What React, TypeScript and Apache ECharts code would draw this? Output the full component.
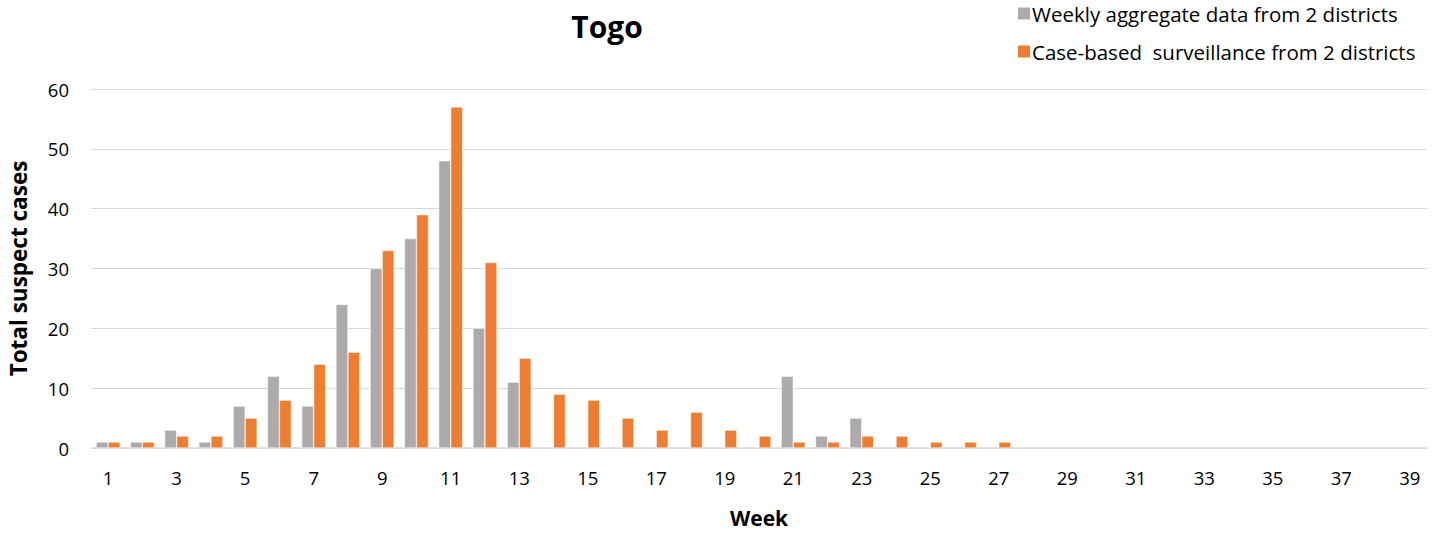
import React, { useEffect, useRef } from "react";
import * as echarts from "echarts";

const weeks = Array.from({ length: 39 }, (_, i) => String(i + 1));
const weeklyAggregate: (number | null)[] = [
  1, 1, 3, 1, 7, 12, 7, 24, 30, 35, 48, 20, 11, null, null, null, null, null, null, null,
  12, 2, 5, null, null, null, null, null, null, null, null, null, null, null, null, null, null, null, null,
];
const caseBased: (number | null)[] = [
  1, 1, 2, 2, 5, 8, 14, 16, 33, 39, 57, 31, 15, 9, 8, 5, 3, 6, 3, 2,
  1, 1, 2, 2, 1, 1, 1, null, null, null, null, null, null, null, null, null, null, null, null,
];
const seriesNames = ["Weekly aggregate data from 2 districts", "Case-based  surveillance from 2 districts"];

const FONT = "'Open Sans', 'Liberation Sans', sans-serif";

export default function App() {
  const ref = useRef<HTMLDivElement>(null);
  useEffect(() => {
    if (!ref.current) return;
    const chart = echarts.init(ref.current, undefined, { renderer: "svg" });
    chart.setOption({
      animation: false,
      backgroundColor: "#ffffff",
      title: {
        text: "Togo",
        left: 602,
        top: 6,
        textAlign: "center",
        textStyle: { fontFamily: FONT, fontSize: 30, fontWeight: "bold", color: "#000" },
      },
      legend: {
        orient: "vertical",
        left: 1011,
        top: -2,
        itemWidth: 14,
        itemHeight: 14,
        itemGap: 17,
        icon: "rect",
        textStyle: { fontFamily: FONT, fontSize: 20.5, color: "#000", padding: [0, 0, 0, -4] },
        data: seriesNames,
      },
      grid: { left: 91, right: 13, top: 89, bottom: 85, containLabel: false, outerBoundsMode: "none" },
      xAxis: {
        type: "category",
        data: weeks,
        name: "Week",
        nameLocation: "middle",
        nameGap: 59,
        nameTextStyle: { fontFamily: FONT, fontSize: 21, fontWeight: "bold", color: "#000" },
        axisLine: { lineStyle: { color: "#d9d9d9", width: 1.5 } },
        axisTick: { show: false },
        axisLabel: { interval: 1, fontFamily: FONT, fontSize: 18.5, color: "#000", margin: 20 },
      },
      yAxis: {
        type: "value",
        min: 0,
        max: 60,
        interval: 10,
        name: "Total suspect cases",
        nameLocation: "middle",
        nameGap: 61,
        nameTextStyle: { fontFamily: FONT, fontSize: 22.5, fontWeight: "bold", color: "#000" },
        axisLine: { show: false },
        axisTick: { show: false },
        axisLabel: { fontFamily: FONT, fontSize: 18.5, color: "#000", margin: 22 },
        splitLine: { lineStyle: { color: "#d9d9d9", width: 1.2 } },
      },
      series: [
        {
          name: seriesNames[0],
          type: "bar",
          data: weeklyAggregate,
          itemStyle: { color: "#adaaa9", borderColor: "#ffffff", borderWidth: 0.5 },
          barGap: "0%",
          barCategoryGap: "30%",
        },
        {
          name: seriesNames[1],
          type: "bar",
          data: caseBased,
          itemStyle: { color: "#ed7d31", borderColor: "#ffffff", borderWidth: 0.5 },
          barGap: "0%",
          barCategoryGap: "30%",
        },
      ],
    });
    return () => chart.dispose();
  }, []);
  return <div ref={ref} style={{ width: 1440, height: 533, position: "absolute", left: 0, top: 0 }} />;
}
